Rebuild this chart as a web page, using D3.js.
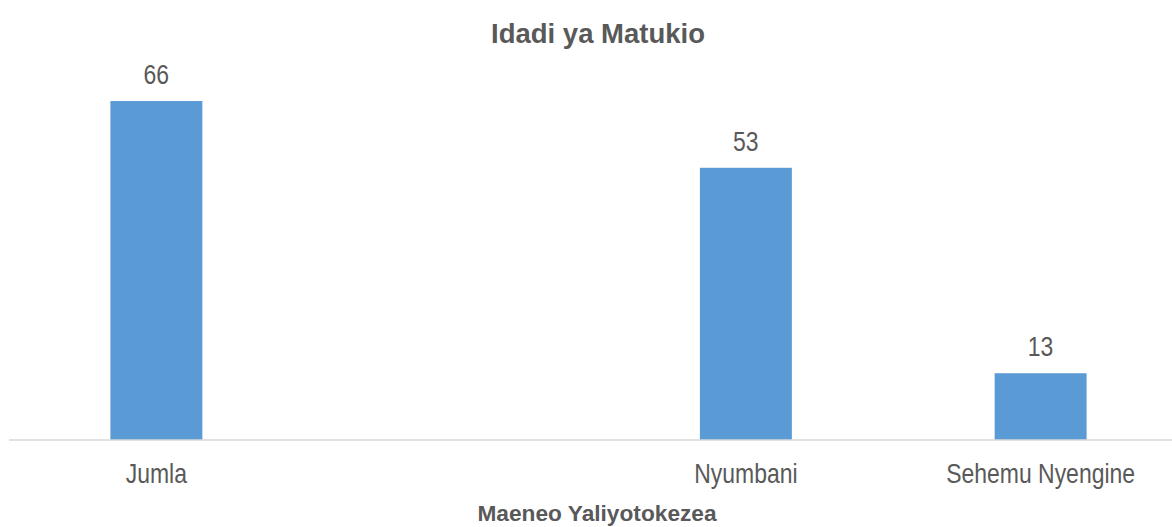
<!DOCTYPE html>
<html>
<head>
<meta charset="utf-8">
<script src="https://cdn.jsdelivr.net/npm/d3@7"></script>
<style>
    body { margin: 0; background: #fff; }
    svg { display: block; }
    text { font-family: "Liberation Sans", Arial, sans-serif; fill: #595959; }
</style>
</head>
<body>
<div id="chart"></div>
<script>
// categories (the second slot is empty in the original chart)
const categories = ["Jumla", "", "Nyumbani", "Sehemu Nyengine"];
const values = [66, null, 53, 13];
const chartTitle = "Idadi ya Matukio";
const xAxisTitle = "Maeneo Yaliyotokezea";

const width = 1172, height = 527;
const plot = { left: 9, right: 1188, bottom: 440 };
const narrow = 0.82; // squeeze plain text like a narrow face

const svg = d3.select("#chart")
    .append("svg")
    .attr("width", width)
    .attr("height", height);

const x = d3.scaleBand()
    .domain(categories)
    .range([plot.left, plot.right])
    .paddingInner(0.688)
    .paddingOuter(0.344);

const y = d3.scaleLinear()
    .domain([0, 70])
    .range([plot.bottom, plot.bottom - 5.136 * 70]);

const data = categories.map((c, i) => ({ cat: c, value: values[i] }));
const filled = data.filter(d => d.value != null);

// bars
svg.append("g")
    .selectAll("rect")
    .data(filled)
    .enter()
    .append("rect")
    .attr("x", d => x(d.cat))
    .attr("width", x.bandwidth())
    .attr("y", d => y(d.value))
    .attr("height", d => y(0) - y(d.value))
    .style("fill", "#5B9BD5");

// axis line
svg.append("line")
    .attr("x1", plot.left)
    .attr("x2", plot.right)
    .attr("y1", plot.bottom)
    .attr("y2", plot.bottom)
    .style("stroke", "#d9d9d9")
    .style("stroke-width", 1.5);

// value labels
svg.append("g")
    .selectAll("text")
    .data(filled)
    .enter()
    .append("text")
    .attr("transform", d => `translate(${x(d.cat) + x.bandwidth() / 2},${y(d.value) - 17}) scale(${narrow},1)`)
    .attr("text-anchor", "middle")
    .style("font-size", "28px")
    .text(d => d.value);

// category labels
svg.append("g")
    .selectAll("text")
    .data(categories)
    .enter()
    .append("text")
    .attr("transform", d => `translate(${x(d) + x.bandwidth() / 2},483) scale(${narrow},1)`)
    .attr("text-anchor", "middle")
    .style("font-size", "28px")
    .text(d => d);

// titles
svg.append("text")
    .attr("x", 598)
    .attr("y", 43)
    .attr("text-anchor", "middle")
    .style("font-size", "27.5px")
    .style("font-weight", "bold")
    .text(chartTitle);

svg.append("text")
    .attr("x", 597)
    .attr("y", 521)
    .attr("text-anchor", "middle")
    .style("font-size", "22.7px")
    .style("font-weight", "bold")
    .text(xAxisTitle);
</script>
</body>
</html>
